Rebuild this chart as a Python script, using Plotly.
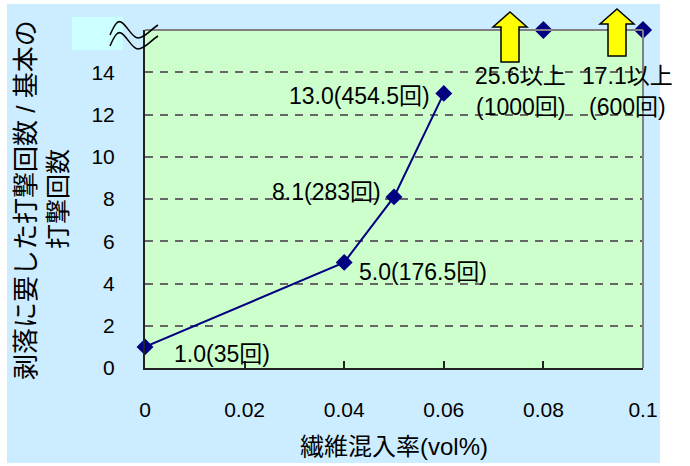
import plotly.graph_objects as go

# ---------------- data ----------------
fiber_ratio = [0, 0.04, 0.05, 0.06]            # 繊維混入率 (vol%)
blow_ratio = [1.0, 5.0, 8.1, 13.0]             # 剥落に要した打撃回数 / 基本の打撃回数
point_labels = ["1.0(35回)", "5.0(176.5回)", "8.1(283回)", "13.0(454.5回)"]

over_ratio_x = [0.08, 0.1]
over_ratio_true = [25.6, 17.1]                 # values beyond the axis break
over_label_1 = ["25.6以上", "17.1以上"]
over_label_2 = ["(1000回)", "(600回)"]
break_level = 16                               # top of the (broken) y axis

x_ticks = [0, 0.02, 0.04, 0.06, 0.08, 0.1]
x_tick_text = ["0", "0.02", "0.04", "0.06", "0.08", "0.1"]
y_ticks = [0, 2, 4, 6, 8, 10, 12, 14]
y_tick_text = ["0", "2", "4", "6", "8", "10", "12", "14"]

x_title = "繊維混入率(vol%)"
y_title_1 = "剥落に要した打撃回数 / 基本の"
y_title_2 = "打撃回数"

# ---------------- layout geometry (pixels) ----------------
W, H = 690, 466
L, R, T, B = 145, 643, 30, 368

def px(x):
    return (x - L) / (R - L)

def py(y):
    return (B - y) / (B - T)

def path(cmds):
    out = []
    for c in cmds:
        if isinstance(c, str):
            out.append(c)
        else:
            out.append(f"{px(c[0]):.5f},{py(c[1]):.5f}")
    return " ".join(out)

FONT = "Liberation Sans, Arial, Noto Sans CJK JP, sans-serif"
NAVY = "#000080"

fig = go.Figure()

fig.add_trace(go.Scatter(
    x=fiber_ratio, y=blow_ratio, mode="lines+markers",
    line=dict(color=NAVY, width=2),
    marker=dict(symbol="diamond", size=13, color=NAVY),
    cliponaxis=False, showlegend=False, hoverinfo="skip"))

fig.add_trace(go.Scatter(
    x=over_ratio_x, y=[min(v, break_level) for v in over_ratio_true], mode="markers",
    marker=dict(symbol="diamond", size=14, color=NAVY),
    cliponaxis=False, showlegend=False, hoverinfo="skip"))

shapes = []
# outer light-blue chart area
shapes.append(dict(type="rect", xref="paper", yref="paper",
                   x0=px(7), x1=px(660), y0=py(463), y1=py(4),
                   fillcolor="#CCECFF", line=dict(width=0), layer="below"))
# green plot area
shapes.append(dict(type="rect", xref="paper", yref="paper",
                   x0=0, x1=1, y0=0, y1=1,
                   fillcolor="#CCFFCC", line=dict(width=0), layer="below"))
# cyan box behind break mark
shapes.append(dict(type="rect", xref="paper", yref="paper",
                   x0=px(72), x1=px(123), y0=py(50), y1=py(17),
                   fillcolor="#CCFFFF", line=dict(width=0), layer="below"))
# top and right frame (gray)
shapes.append(dict(type="line", xref="paper", yref="paper", x0=0, x1=1, y0=1, y1=1,
                   line=dict(color="#808080", width=2), layer="above"))
shapes.append(dict(type="line", xref="paper", yref="paper", x0=1, x1=1, y0=0, y1=1,
                   line=dict(color="#808080", width=2), layer="above"))
# break mark (two wavy lines)
for dy in (0, 11):
    p = path(["M", (110, 35 + dy), "C", (114, 26 + dy), (117, 20 + dy), (121, 22 + dy),
              "C", (127, 25 + dy), (132, 38 + dy), (138, 38 + dy),
              "C", (145, 38 + dy), (150, 30 + dy), (158, 25 + dy)])
    shapes.append(dict(type="path", xref="paper", yref="paper", path=p,
                       line=dict(color="black", width=1.5), layer="above"))
# yellow arrows
for cx, tip, head, bot in ((510, 12, 27, 62), (617, 9, 24, 56)):
    p = path(["M", (cx, tip), "L", (cx + 17, head), "L", (cx + 9, head), "L", (cx + 9, bot),
              "L", (cx - 9, bot), "L", (cx - 9, head), "L", (cx - 17, head), "Z"])
    shapes.append(dict(type="path", xref="paper", yref="paper", path=p,
                       fillcolor="#FFFF00", line=dict(color="black", width=1.5), layer="above"))

annotations = []
lab_style = [("left", 27, -7), ("left", 13, -10), ("right", -11, 5), ("right", -12, -3)]
for xv, yv, txt, (anc, xs, ys) in zip(fiber_ratio, blow_ratio, point_labels, lab_style):
    annotations.append(dict(x=xv, y=yv, xref="x", yref="y", text=txt, showarrow=False,
                            xanchor=anc, yanchor="middle", xshift=xs, yshift=ys,
                            font=dict(family=FONT, size=23, color="black")))
for xv, t1, t2, xs in zip(over_ratio_x, over_label_1, over_label_2, (-23, -16)):
    yv = break_level
    annotations.append(dict(x=xv, y=yv, xref="x", yref="y", text=t1, showarrow=False,
                            xanchor="center", yanchor="middle", xshift=xs, yshift=-46,
                            font=dict(family=FONT, size=23, color="black")))
    annotations.append(dict(x=xv, y=yv, xref="x", yref="y", text=t2, showarrow=False,
                            xanchor="center", yanchor="middle", xshift=xs, yshift=-77,
                            font=dict(family=FONT, size=23, color="black")))
# y-axis title lines
annotations.append(dict(x=0, y=py(200), xref="paper", yref="paper", text=y_title_1,
                        showarrow=False, textangle=-90, xanchor="center", yanchor="middle",
                        xshift=26 - L, font=dict(family=FONT, size=26, color="black")))
annotations.append(dict(x=0, y=py(199), xref="paper", yref="paper", text=y_title_2,
                        showarrow=False, textangle=-90, xanchor="center", yanchor="middle",
                        xshift=58 - L, font=dict(family=FONT, size=25, color="black")))
# x-axis title
annotations.append(dict(x=0.5, y=py(446), xref="paper", yref="paper", text=x_title,
                        showarrow=False, xanchor="center", yanchor="middle",
                        font=dict(family=FONT, size=24, color="black")))

fig.update_layout(
    width=W, height=H,
    margin=dict(l=L, r=W - R, t=T, b=H - B),
    paper_bgcolor="white", plot_bgcolor="#CCFFCC",
    shapes=shapes, annotations=annotations,
    font=dict(family=FONT, size=21, color="black"),
    xaxis=dict(range=[0, 0.1], tickvals=x_ticks, ticktext=x_tick_text,
               ticks="inside", ticklen=7, tickcolor="#222", tickwidth=1.5,
               showline=True, linecolor="#222", linewidth=2,
               showgrid=False, zeroline=False, ticklabelstandoff=22,
               tickfont=dict(family=FONT, size=21, color="black")),
    yaxis=dict(range=[0, break_level], tickvals=y_ticks, ticktext=y_tick_text,
               ticks="", showline=True, linecolor="#222", linewidth=2,
               showgrid=True, gridcolor="#666666", gridwidth=1.5, griddash="8px,7px",
               zeroline=False, ticklabelstandoff=24,
               tickfont=dict(family=FONT, size=21, color="black")),
)

fig.write_html("out.html")
